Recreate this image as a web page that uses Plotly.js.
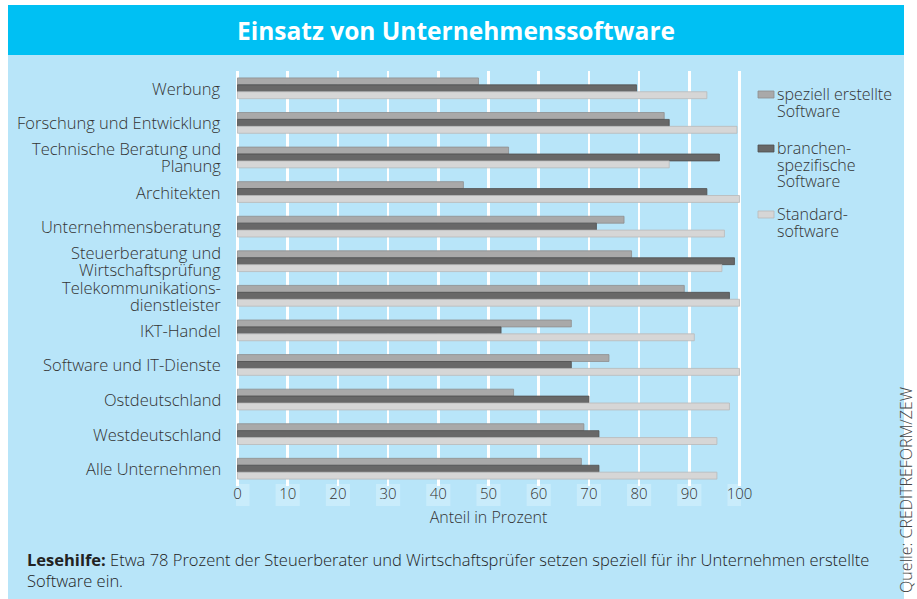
<!DOCTYPE html>
<html>
<head>
<meta charset="utf-8">
<script src="https://cdn.plot.ly/plotly-3.0.1.min.js"></script>
<style>
  html, body { margin: 0; padding: 0; background: #ffffff; }
  #wrap { position: relative; width: 917px; height: 599px; overflow: hidden; }
  #band { position: absolute; left: 8px; top: 5px; width: 896px; height: 50px; background: #00c0f3; }
  #panel { position: absolute; left: 8px; top: 55px; width: 896px; height: 544px; background: #b8e5f9; }
  #chart { position: absolute; left: 0; top: 0; width: 917px; height: 599px; }
</style>
</head>
<body>
<div id="wrap">
  <div id="band"></div>
  <div id="panel"></div>
  <div id="chart"></div>
</div>
<script>
// ---- data ----
const categories = [
  "Werbung",
  "Forschung und Entwicklung",
  "Technische Beratung und<br>Planung",
  "Architekten",
  "Unternehmensberatung",
  "Steuerberatung und<br>Wirtschaftsprüfung",
  "Telekommunikations-<br>dienstleister",
  "IKT-Handel",
  "Software und IT-Dienste",
  "Ostdeutschland",
  "Westdeutschland",
  "Alle Unternehmen"
];
const seriesNames = [
  "speziell erstellte<br>Software",
  "branchen-<br>spezifische<br>Software",
  "Standard-<br>software"
];
const speziell  = [48, 85, 54, 45, 77, 78.5, 89, 66.5, 74, 55, 69, 68.5];
const branchen  = [79.5, 86, 96, 93.5, 71.5, 99, 98, 52.5, 66.5, 70, 72, 72];
const standard  = [93.5, 99.5, 86, 100, 97, 96.5, 100, 91, 100, 98, 95.5, 95.5];
const xTicks = [0, 10, 20, 30, 40, 50, 60, 70, 80, 90, 100];

// ---- layout helpers (pixel -> paper) ----
const L = 236, R = 741, T = 71, B = 486;
const fx = p => (p - L) / (R - L);
const fy = p => (B - p) / (B - T);

const FONT = "'Open Sans', Lato, sans-serif";
const TXT = "#333333";
const colors = ["#a9a9a9", "#686868", "#d6d6d6"];
const lines  = ["#8e8e8e", "#4f4f4f", "#b9b9b9"];
const vals = [speziell, branchen, standard];

const traces = vals.map((v, i) => ({
  type: "bar",
  orientation: "h",
  name: seriesNames[i],
  y: categories,
  x: v,
  showlegend: false,
  marker: { color: colors[i], line: { color: lines[i], width: 0.8 } },
  hoverinfo: "x+name"
}));

// tick label boxes
const shapes = xTicks.map(t => ({
  type: "rect", xref: "x", yref: "paper", layer: "below",
  x0: t - 2.4, x1: t + 2.4, y0: fy(484), y1: fy(506),
  fillcolor: "#c9ecfb", line: { width: 0 }
}));

const annotations = [];

// category labels (tight line spacing like the original)
categories.forEach(c => {
  const parts = c.split("<br>");
  parts.forEach((p, j) => {
    annotations.push({
      xref: "paper", yref: "y", x: fx(223), y: c,
      xanchor: "right", yanchor: "middle", showarrow: false,
      yshift: ((parts.length - 1) / 2 - j) * 17,
      text: p,
      font: { family: FONT, size: 16.5, color: TXT, weight: 300 }
    });
  });
});

// custom legend
const legendFirstLineY = [94, 148, 214];
seriesNames.forEach((n, i) => {
  const y0 = legendFirstLineY[i];
  shapes.push({
    type: "rect", xref: "paper", yref: "paper",
    x0: fx(758), x1: fx(774), y0: fy(y0 - 3), y1: fy(y0 + 4),
    fillcolor: colors[i], line: { color: lines[i], width: 0.8 }
  });
  n.split("<br>").forEach((p, j) => {
    annotations.push({
      xref: "paper", yref: "paper", x: fx(775), y: fy(y0 + j * 16.5),
      xanchor: "left", yanchor: "middle", showarrow: false,
      text: p,
      font: { family: FONT, size: 16, color: TXT, weight: 300 }
    });
  });
});

annotations.push(
  {
    xref: "paper", yref: "paper",
    x: fx(25), y: fy(546), xanchor: "left", yanchor: "top",
    align: "left", showarrow: false,
    font: { family: FONT, size: 16.5, color: "#222222", weight: 300 },
    text: "<b>Lesehilfe:</b> Etwa 78 Prozent der Steuerberater und Wirtschaftsprüfer setzen speziell für ihr Unternehmen erstellte<br>Software ein."
  },
  {
    xref: "paper", yref: "paper",
    x: fx(906), y: fy(385), xanchor: "center", yanchor: "top",
    textangle: -90, showarrow: false,
    font: { family: FONT, size: 16, color: "#444444", weight: 300 },
    text: "Quelle: CREDITREFORM/ZEW"
  }
);

const layout = {
  width: 917, height: 599,
  margin: { l: L, r: 917 - R, t: T, b: 599 - B, pad: 0 },
  paper_bgcolor: "rgba(0,0,0,0)",
  plot_bgcolor: "rgba(0,0,0,0)",
  font: { family: FONT, color: TXT, size: 15 },
  barmode: "group",
  bargap: 0.4,
  bargroupgap: 0,
  showlegend: false,
  title: {
    text: "<b>Einsatz von Unternehmenssoftware</b>",
    font: { family: FONT, size: 24.5, color: "#ffffff" },
    x: 456 / 917, xanchor: "center", xref: "container",
    y: 1 - 31 / 599, yanchor: "middle", yref: "container"
  },
  xaxis: {
    range: [-0.3, 100.3],
    tickvals: xTicks,
    ticktext: xTicks.map(String),
    showgrid: true, gridcolor: "#ffffff", gridwidth: 2.5,
    zeroline: false, showline: false,
    ticks: "",
    ticklabelstandoff: -3,
    tickfont: { family: FONT, size: 15, color: TXT, weight: 300 },
    title: { text: "Anteil in Prozent", font: { family: FONT, size: 16, color: TXT, weight: 300 }, standoff: 9 },
    fixedrange: true
  },
  yaxis: {
    autorange: "reversed",
    type: "category",
    showgrid: false, zeroline: false, showline: false,
    showticklabels: false, ticks: "",
    fixedrange: true
  },
  shapes: shapes,
  annotations: annotations
};

Plotly.newPlot("chart", traces, layout, { displayModeBar: false, staticPlot: true });
</script>
</body>
</html>
